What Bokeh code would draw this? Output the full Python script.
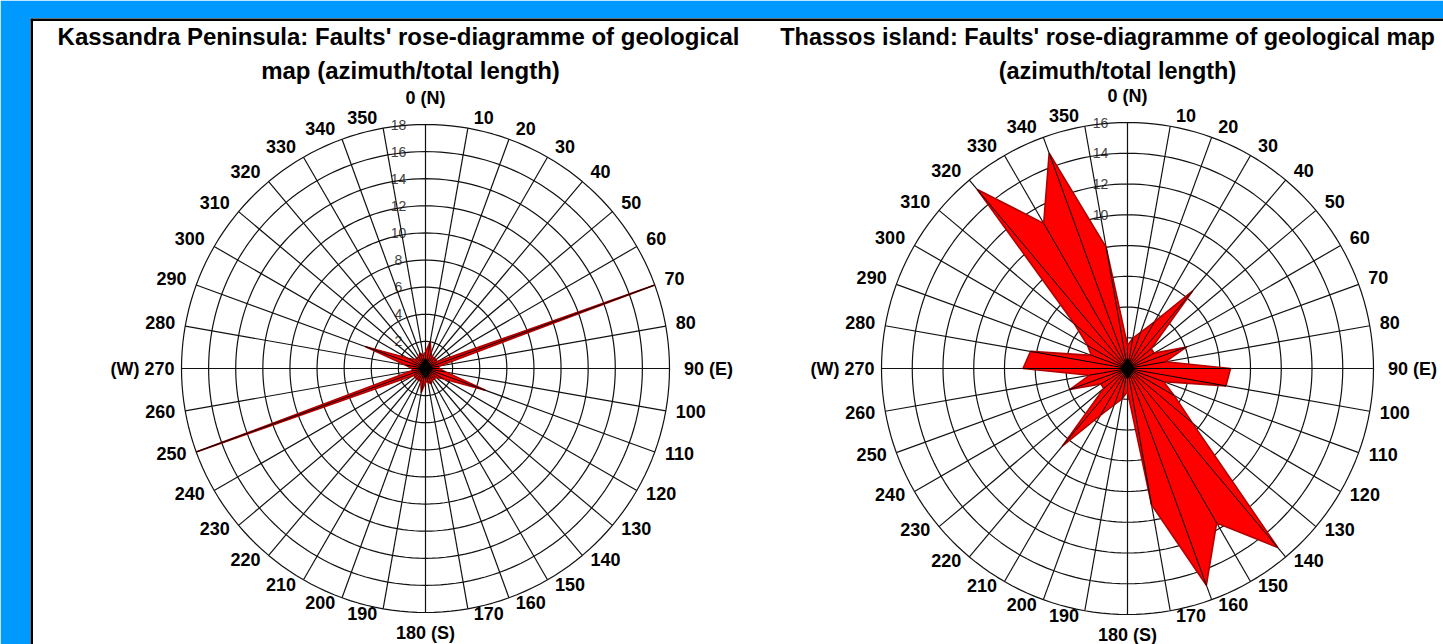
import math
from bokeh.plotting import figure
from bokeh.models import Range1d, Span
from bokeh.core.properties import value
from bokeh.embed import file_html
from bokeh.resources import INLINE

# ---------------- data ----------------
azimuths = list(range(0, 360, 10))

kassandra_lengths = [1.2, 2.0, 1.2, 1.0, 1.0, 1.0, 1.0, 18.0, 1.0,
                     1.0, 1.5, 4.7, 1.5, 1.0, 1.0, 1.0, 1.2, 1.0,
                     1.0, 1.8, 1.0, 1.0, 1.0, 1.0, 1.0, 18.0, 1.0,
                     1.0, 1.5, 4.7, 1.5, 1.0, 1.0, 1.0, 1.2, 1.0]

thassos_lengths = [1.5, 2.0, 2.5, 3.5, 6.6, 2.0, 2.0, 4.1, 2.5,
                   6.7, 6.5, 2.5, 3.5, 5.5, 15.2, 11.6, 15.0, 9.0,
                   1.5, 2.0, 2.5, 3.5, 6.6, 2.0, 2.0, 4.0, 2.5,
                   6.8, 6.4, 2.5, 3.0, 4.5, 15.2, 10.9, 14.9, 8.0]

kassandra_rings = [2, 4, 6, 8, 10, 12, 14, 16, 18]
thassos_rings = [2, 4, 6, 8, 10, 12, 14, 16]

angle_labels = []
for a in azimuths:
    if a == 0:
        angle_labels.append("0 (N)")
    elif a == 90:
        angle_labels.append("90 (E)")
    elif a == 180:
        angle_labels.append("180 (S)")
    elif a == 270:
        angle_labels.append("(W) 270")
    else:
        angle_labels.append(str(a))

kassandra_title = ["Kassandra Peninsula: Faults' rose-diagramme of geological",
                   "map (azimuth/total length)"]
thassos_title = ["Thassos island: Faults' rose-diagramme of geological map",
                 "(azimuth/total length)"]

# ---------------- layout (page pixels) ----------------
W, H = 1443, 644
ML, MT = 30, 18
BLUE = "#0099ff"
FONT = "Liberation Sans"

p = figure(width=W, height=H, output_backend="svg", toolbar_location=None,
           x_range=Range1d(ML, W), y_range=Range1d(H, MT),
           min_border_left=ML, min_border_top=MT, min_border_right=0, min_border_bottom=0)
p.axis.visible = False
p.grid.visible = False
p.background_fill_color = "white"
p.border_fill_color = BLUE
p.outline_line_color = None

p.add_layout(Span(location=ML + 1, dimension="height", line_color="black", line_width=3))
p.add_layout(Span(location=MT + 1, dimension="width", line_color="black", line_width=3))


def draw_rose(cx, cy, R, rmax, rings, lengths, title, title_x, title_size):
    k = R / rmax
    # ring labels (under the grid)
    p.text(x=[cx - 27] * len(rings), y=[cy - rv * k for rv in rings],
           text=[str(rv) for rv in rings], text_align="center", text_baseline="middle",
           text_font=value(FONT), text_font_size="14px", text_color="#444444")
    # rings
    for rv in rings:
        n = 180
        xs = [cx + rv * k * math.sin(2 * math.pi * i / n) for i in range(n + 1)]
        ys = [cy - rv * k * math.cos(2 * math.pi * i / n) for i in range(n + 1)]
        p.line(xs, ys, line_color="#111111", line_width=1.2)
    # spokes
    sx = [[cx, cx + R * math.sin(math.radians(a))] for a in azimuths]
    sy = [[cy, cy - R * math.cos(math.radians(a))] for a in azimuths]
    p.multi_line(sx, sy, line_color="#111111", line_width=1.2)
    # petals
    px = [cx + min(v, rmax) * k * math.sin(math.radians(a)) for a, v in zip(azimuths, lengths)]
    py = [cy - min(v, rmax) * k * math.cos(math.radians(a)) for a, v in zip(azimuths, lengths)]
    p.patch(px, py, fill_color="#ff0000", line_color="#b00000", line_width=1.6)
    p.segment(x0=[cx] * len(px), y0=[cy] * len(py), x1=px, y1=py,
              line_color="black", line_width=1)
    p.scatter([cx], [cy], marker="diamond", size=20, fill_color="black", line_color="black")
    # angle labels
    lx, ly = [], []
    for a, lab in zip(azimuths, angle_labels):
        s = math.sin(math.radians(a))
        c = math.cos(math.radians(a))
        if a == 0:
            lx.append(cx)
            ly.append(cy - R - 27)
            continue
        if a == 180:
            lx.append(cx)
            ly.append(cy + R + 20)
            continue
        x = cx + (R + 5) * s
        y = cy - (R + 5) * c
        w = 10 * len(lab) if "(" not in lab else 58
        x += math.copysign(w / 2 + 5, s)
        y -= max(0.0, min(1.0, 2.5 * c)) * 6
        lx.append(x)
        ly.append(y)
    p.text(x=lx, y=ly, text=angle_labels, text_align="center", text_baseline="middle",
           text_font=value(FONT), text_font_size="18px", text_font_style="bold",
           text_color="black")
    # titles
    p.text(x=[title_x[0], title_x[1]], y=[36, 70], text=title, text_align="center",
           text_baseline="middle", text_font=value(FONT), text_font_size=title_size,
           text_font_style="bold", text_color="black")


draw_rose(425, 368, 244, 18, kassandra_rings, kassandra_lengths, kassandra_title,
          (398, 410), "24px")
draw_rose(1127, 368, 246, 16, thassos_rings, thassos_lengths, thassos_title,
          (1107, 1117), "23.5px")

open("out.html", "w").write(file_html(p, INLINE))
